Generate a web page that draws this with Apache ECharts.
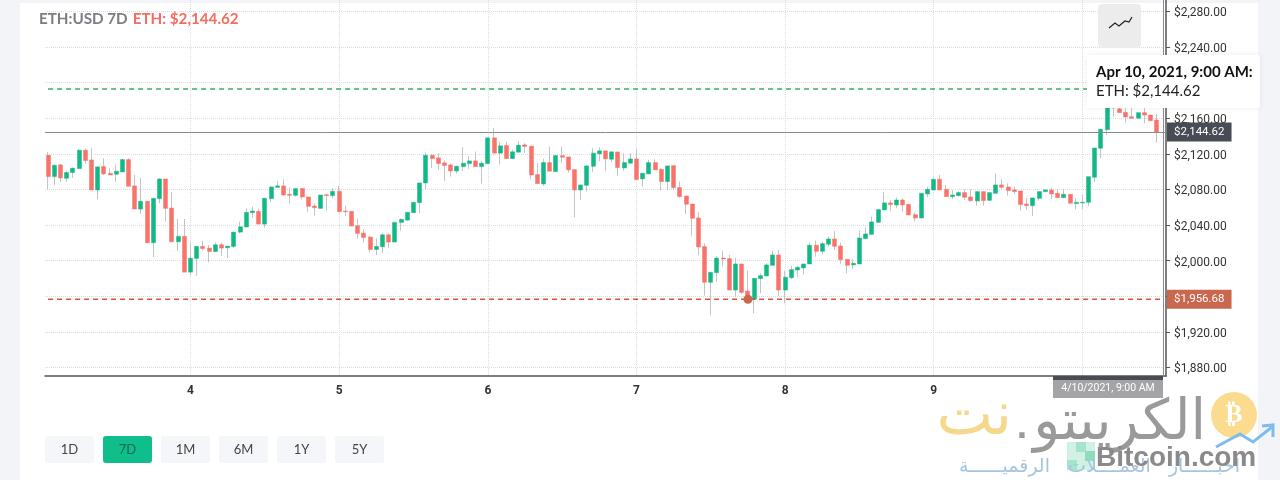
<!DOCTYPE html>
<html>
<head>
<meta charset="utf-8">
<title>ETH:USD 7D</title>
<script src="https://cdn.jsdelivr.net/npm/echarts@6/dist/echarts.min.js"></script>
<style>
html, body { margin: 0; padding: 0; background: #f3f4f8; }
#card { position: absolute; left: 20px; top: 3px; width: 1238px; height: 477px; background: #fff; }
#main { position: absolute; left: 0; top: 0; width: 1280px; height: 480px; }
</style>
</head>
<body>
<div id="card"></div>
<div id="main"></div>
<script>
// hourly candles, first one is Apr 3 01:00
var firstDay = 3;
var firstHour = 1;

var open = [
  2118.5,2094.5,2107.6,2092.6,2099.0,2103.5,2124.1,2113.2,2079.4,2105.7,
  2098.2,2097.1,2099.7,2113.6,2084.0,2058.0,2066.7,2020.1,2069.7,2091.8,
  2059.2,2021.2,2027.3,1987.1,2002.5,2016.0,2014.1,2010.3,2017.9,2014.5,
  2016.0,2032.1,2037.8,2053.9,2055.4,2041.1,2069.7,2082.4,2084.0,2074.6,
  2073.4,2081.3,2071.6,2061.4,2058.8,2074.2,2073.1,2077.9,2055.8,2055.4,
  2039.3,2031.0,2026.5,2012.6,2015.6,2029.1,2020.9,2043.0,2045.6,2053.9,
  2065.2,2087.3,2118.5,2115.5,2109.9,2107.6,2100.8,2105.7,2109.1,2112.1,
  2105.7,2109.1,2138.0,2120.8,2129.4,2114.7,2121.9,2130.1,2128.6,2096.7,
  2086.2,2110.2,2100.1,2118.1,2116.6,2102.4,2079.4,2084.7,2106.1,2120.0,
  2123.4,2114.0,2122.2,2104.2,2109.5,2114.3,2091.9,2097.5,2110.2,2102.7,
  2088.9,2106.8,2082.1,2072.7,2063.7,2048.0,2015.8,1975.7,1986.5,2003.0,
  2002.3,1967.0,1996.3,1965.9,1956.7,1979.8,1982.8,1994.8,2006.4,1967.0,
  1980.9,1989.5,1991.8,1996.3,2017.3,2010.5,2018.4,2024.4,2016.5,2001.5,
  1995.2,1996.3,2024.8,2029.6,2043.1,2057.0,2064.9,2062.6,2068.2,2063.3,
  2051.7,2048.0,2075.0,2079.4,2091.4,2080.2,2072.0,2073.1,2076.5,2071.6,
  2067.1,2077.6,2067.8,2075.7,2085.1,2082.8,2079.5,2078.3,2063.7,2061.8,
  2070.1,2077.6,2079.5,2075.7,2070.8,2074.6,2064.1,2064.8,2065.6,2093.7,
  2126.3,2147.2,2192.9,2170.5,2166.7,2161.8,2160.0,2166.3,2163.7,2158.1
];
var close = [
  2094.5,2107.2,2093.0,2099.0,2103.9,2124.1,2112.5,2079.4,2105.4,2097.5,
  2096.3,2100.5,2113.6,2083.6,2058.0,2066.7,2020.1,2070.1,2091.8,2058.8,
  2021.2,2027.3,1987.1,2002.8,2016.0,2013.7,2010.3,2017.9,2014.1,2016.4,
  2032.1,2038.1,2054.3,2055.8,2041.1,2070.1,2082.8,2084.0,2073.8,2073.4,
  2081.0,2071.6,2061.0,2059.5,2073.8,2073.1,2077.9,2055.0,2055.0,2038.9,
  2030.6,2026.1,2012.6,2016.0,2029.1,2020.9,2043.0,2046.4,2054.3,2065.6,
  2087.3,2118.5,2114.7,2109.1,2106.9,2100.8,2106.1,2109.5,2112.1,2105.7,
  2109.5,2138.0,2120.8,2129.0,2114.7,2122.3,2129.8,2128.3,2096.3,2086.6,
  2110.2,2100.5,2118.1,2116.2,2102.0,2079.4,2085.1,2106.5,2120.8,2123.4,
  2114.4,2122.3,2104.6,2110.2,2114.3,2091.1,2098.2,2110.2,2102.0,2088.9,
  2106.5,2082.1,2072.0,2063.4,2047.6,2015.4,1975.7,1986.9,2003.0,2001.9,
  1967.0,1996.3,1964.4,1956.68,1980.2,1983.2,1995.2,2006.4,1967.0,1981.3,
  1989.9,1992.5,1996.3,2017.3,2010.5,2019.1,2024.4,2016.1,2001.1,1994.8,
  1997.0,2025.5,2030.0,2043.5,2057.4,2064.9,2063.0,2068.2,2062.6,2051.4,
  2048.0,2075.7,2080.2,2091.4,2079.4,2072.0,2073.8,2076.5,2071.2,2067.5,
  2077.6,2067.5,2076.5,2085.1,2082.4,2078.7,2077.6,2063.0,2061.8,2070.5,
  2077.6,2079.5,2075.0,2070.8,2074.6,2064.5,2065.6,2065.6,2094.4,2126.6,
  2147.6,2192.9,2171.5,2166.3,2161.5,2160.0,2166.3,2163.7,2157.3,2144.62
];
var low = [
  2080.2,2085.1,2088.5,2088.5,2093.0,2103.5,2108.7,2079.4,2068.9,2096.3,
  2096.3,2088.5,2099.7,2083.6,2058.0,2052.4,2020.1,2004.0,2064.4,2043.8,
  2021.2,2011.1,1987.1,1983.7,1983.0,2011.1,1998.3,2009.6,2005.5,2002.8,
  2014.1,2030.6,2037.8,2048.3,2041.1,2037.0,2065.9,2082.4,2073.1,2064.4,
  2071.9,2068.9,2055.0,2050.5,2058.8,2056.2,2070.1,2055.0,2050.5,2038.9,
  2024.6,2020.5,2009.2,2006.2,2008.8,2014.1,2020.9,2033.6,2044.5,2053.9,
  2053.2,2080.6,2104.2,2102.0,2089.6,2094.5,2097.8,2100.5,2103.1,2105.7,
  2086.6,2109.1,2120.8,2108.0,2114.7,2114.7,2121.9,2120.8,2091.5,2086.6,
  2084.0,2100.5,2100.1,2110.2,2099.0,2048.7,2068.2,2077.9,2099.7,2111.7,
  2100.8,2110.6,2095.2,2101.2,2109.5,2091.1,2083.2,2097.1,2102.0,2078.7,
  2079.5,2079.5,2070.9,2052.5,2028.1,2006.4,1960.7,1938.9,1976.4,1993.3,
  1967.0,1959.5,1962.5,1956.68,1940.8,1963.3,1982.8,1994.0,1960.3,1952.1,
  1979.4,1981.3,1984.6,1996.3,2004.5,2007.1,2015.8,2012.0,1996.3,1985.8,
  1990.6,1996.3,2024.8,2029.6,2042.7,2057.0,2055.5,2058.9,2055.1,2051.4,
  2044.2,2047.2,2071.2,2079.4,2079.4,2072.0,2069.3,2072.0,2068.2,2066.3,
  2061.8,2061.8,2067.5,2075.7,2080.2,2073.1,2075.0,2056.2,2057.0,2050.2,
  2067.5,2077.2,2069.3,2070.1,2070.1,2064.1,2057.7,2057.7,2061.5,2088.4,
  2115.0,2141.6,2161.8,2166.3,2155.1,2160.0,2160.0,2154.3,2157.3,2132.6
];
var high = [
  2121.9,2108.0,2108.4,2101.2,2104.6,2126.0,2125.6,2126.4,2105.4,2115.1,
  2103.9,2107.6,2114.4,2115.1,2096.3,2093.3,2066.7,2070.1,2092.6,2091.8,
  2077.2,2046.8,2046.8,2021.2,2016.0,2022.4,2017.5,2020.5,2020.1,2016.4,
  2032.1,2043.8,2058.8,2060.7,2058.4,2070.1,2083.6,2089.6,2091.5,2082.4,
  2081.3,2081.3,2071.6,2064.4,2073.8,2074.2,2081.3,2084.3,2061.8,2055.4,
  2047.5,2035.5,2028.0,2025.0,2030.6,2030.6,2043.0,2047.5,2054.3,2065.6,
  2087.3,2121.5,2119.6,2120.8,2112.5,2109.5,2106.5,2127.5,2117.4,2122.6,
  2112.1,2138.0,2148.9,2133.5,2133.5,2124.5,2134.3,2132.0,2128.6,2109.5,
  2114.4,2127.9,2118.1,2128.3,2116.6,2102.4,2085.1,2106.5,2126.4,2127.5,
  2123.4,2122.3,2122.2,2120.7,2120.7,2125.2,2098.2,2113.2,2114.0,2104.2,
  2106.5,2106.8,2088.9,2072.7,2063.7,2054.4,2019.5,1986.9,2004.9,2011.3,
  2006.4,2003.4,1996.3,1988.8,1980.2,1985.8,1997.0,2011.3,2012.0,1988.8,
  1994.0,1994.0,1996.3,2020.3,2022.5,2021.0,2027.0,2033.4,2020.3,2001.5,
  2001.5,2033.8,2036.8,2049.5,2057.4,2076.9,2068.2,2071.2,2070.1,2063.3,
  2054.0,2075.7,2083.2,2093.7,2096.3,2085.1,2079.4,2077.6,2080.2,2080.2,
  2077.6,2077.6,2076.5,2098.2,2091.4,2086.9,2083.2,2078.3,2070.1,2070.5,
  2077.6,2080.2,2082.1,2080.2,2080.6,2074.6,2070.1,2073.8,2094.4,2126.6,
  2147.6,2195.8,2197.0,2171.6,2171.6,2171.6,2166.3,2171.6,2163.7,2164.8
];

var priceTicks = [1880,1920,1960,2000,2040,2080,2120,2160,2200,2240,2280];
var lastPrice = 2144.62;
var lowPrice = 1956.68;
var highPrice = 2192.9;
var lowIndex = 113;
var rangeButtons = ['1D','7D','1M','6M','1Y','5Y'];
var activeButton = '7D';

var GREEN = '#12b886';
var RED = '#f8736a';

// one empty slot after the last candle, the crosshair sits in it
var days = [];
for (var i = 0; i <= open.length; i++) {
  var h = firstHour + i;
  days.push(h % 24 == 0 ? String(firstDay + h / 24) : '');
}

var wicks = [];
var bodies = [];
for (var i = 0; i < open.length; i++) {
  wicks.push([open[i], close[i], low[i], high[i]]);
  bodies.push([open[i], close[i], Math.min(open[i], close[i]), Math.max(open[i], close[i])]);
}

function money(v) {
  return '$' + v.toLocaleString('en-US', {minimumFractionDigits: 2, maximumFractionDigits: 2});
}
function isDay(index, value) {
  return value !== '';
}
// dashed level across the whole chart, the box on the axis hangs on a see-through mark line
function level(name, value, color, boxColor) {
  var s = {
    name: name,
    type: 'line',
    data: [[0, value], [days.length - 1, value]],
    symbol: 'none',
    lineStyle: {color: color, type: [5, 4], width: 1.4}
  };
  if (boxColor) {
    s.markLine = {
      silent: true, symbol: 'none', animation: false,
      lineStyle: {color: 'transparent'},
      label: {show: true, position: 'end', distance: 1, formatter: money(value), backgroundColor: boxColor,
        color: '#fff', padding: [4, 7, 3, 7], fontFamily: 'Roboto', fontSize: 11.5},
      data: [{yAxis: value}]
    };
  }
  return s;
}

var UI_FONT = 'Lato';
var shapes = [];

// chart type icon
shapes.push({type: 'rect', z: 100, shape: {x: 1098, y: 4, width: 43, height: 44, r: 4}, style: {fill: '#ececec'}});
shapes.push({type: 'polyline', z: 101, shape: {points: [[1109,28],[1115,23],[1119,26],[1125,21],[1129,22],[1132,17]]}, style: {stroke: '#222', lineWidth: 1.2, fill: null}});

// hover tooltip
shapes.push({type: 'rect', z: 100, shape: {x: 1087, y: 55, width: 173, height: 53, r: 2}, style: {fill: '#fff', shadowBlur: 6, shadowColor: 'rgba(0,0,0,0.08)'}});
shapes.push({type: 'text', z: 101, x: 1096, y: 72, style: {text: 'Apr 10, 2021, 9:00 AM:', fill: '#111', font: 'bold 15px ' + UI_FONT, textVerticalAlign: 'middle'}});
shapes.push({type: 'text', z: 101, x: 1096, y: 91, style: {text: 'ETH: ' + money(lastPrice), fill: '#222', font: '15px ' + UI_FONT, textVerticalAlign: 'middle'}});

// crosshair label on the time axis
shapes.push({type: 'rect', z: 100, shape: {x: 1053, y: 376, width: 110, height: 4}, style: {fill: '#484c55'}});
shapes.push({type: 'rect', z: 100, shape: {x: 1053, y: 380, width: 110, height: 18}, style: {fill: '#a3a3a8'}});
shapes.push({type: 'text', z: 101, x: 1108, y: 388, style: {text: '4/10/2021, 9:00 AM', fill: '#fff', font: '10.5px Roboto', textAlign: 'center', textVerticalAlign: 'middle'}});

// range buttons
for (var i = 0; i < rangeButtons.length; i++) {
  var bx = 45 + i * 58;
  var on = rangeButtons[i] == activeButton;
  shapes.push({type: 'rect', z: 100, shape: {x: bx, y: 436, width: 49, height: 27, r: 3}, style: {fill: on ? '#0fbe8b' : '#f5f6fa'}});
  shapes.push({type: 'text', z: 101, x: bx + 24.5, y: 450, style: {text: rangeButtons[i], fill: on ? '#14695a' : '#444', font: '13px ' + UI_FONT, textAlign: 'center', textVerticalAlign: 'middle'}});
}

// watermark
shapes.push({type: 'text', z: 110, x: 1206, y: 424, style: {text: 'الكريبتو', fill: '#9a9a9a', font: '56px "DejaVu Sans"', textAlign: 'right', textVerticalAlign: 'middle'}});
shapes.push({type: 'text', z: 110, x: 1022, y: 430, style: {text: '.', fill: '#9a9a9a', font: 'bold 30px "DejaVu Sans"', textAlign: 'center', textVerticalAlign: 'middle'}});
shapes.push({type: 'text', z: 110, x: 1012, y: 418, style: {text: 'نت', fill: '#f6d88c', font: '60px "DejaVu Sans"', textAlign: 'right', textVerticalAlign: 'middle'}});
shapes.push({type: 'circle', z: 110, shape: {cx: 1234, cy: 415, r: 23}, style: {fill: '#fbdc8e'}});
shapes.push({type: 'text', z: 111, x: 1234, y: 415, style: {text: '₿', fill: '#fff', font: 'bold 26px "DejaVu Sans"', textAlign: 'center', textVerticalAlign: 'middle'}});
shapes.push({type: 'polyline', z: 110, shape: {points: [[1216,447],[1240,434],[1253,442],[1272,427]]}, style: {stroke: '#7fbcec', lineWidth: 3, fill: null}});
shapes.push({type: 'polyline', z: 110, shape: {points: [[1262,426],[1273,425],[1273,437]]}, style: {stroke: '#7fbcec', lineWidth: 3, fill: null}});
shapes.push({type: 'rect', z: 110, shape: {x: 1067, y: 442, width: 28, height: 28}, style: {fill: '#d2f1e5'}});
shapes.push({type: 'rect', z: 110, shape: {x: 1076, y: 442, width: 10, height: 10}, style: {fill: '#a6e3cc'}});
shapes.push({type: 'rect', z: 110, shape: {x: 1085, y: 451, width: 10, height: 10}, style: {fill: '#8fdcbe'}});
shapes.push({type: 'rect', z: 110, shape: {x: 1067, y: 460, width: 10, height: 10}, style: {fill: '#a6e3cc'}});
shapes.push({type: 'text', z: 110, x: 1240, y: 467, style: {text: 'اخبــــــار   العمــــلات   الرقميــــــة', fill: '#a5c4e0', font: '19px "DejaVu Sans"', textAlign: 'right', textVerticalAlign: 'middle'}});
shapes.push({type: 'text', z: 111, x: 1096, y: 458, style: {text: 'Bitcoin.com', fill: '#8a8a8a', font: 'bold 28px "Liberation Sans"', textVerticalAlign: 'middle'}});

var myChart = echarts.init(document.getElementById('main'));
var option = {
  animation: false,
  title: {
    left: 39, top: 10, padding: 0,
    text: '{a|ETH:USD 7D} {b|ETH: ' + money(lastPrice) + '}',
    textStyle: {
      rich: {
        a: {fontFamily: UI_FONT, fontSize: 15.2, fontWeight: 'bold', color: '#7c7d82'},
        b: {fontFamily: UI_FONT, fontSize: 15.2, fontWeight: 'bold', color: '#f56c62'}
      }
    }
  },
  grid: {left: 45, right: 114, top: 0, bottom: 104},
  xAxis: {
    type: 'category',
    data: days,
    boundaryGap: true,
    axisLine: {lineStyle: {color: '#555', width: 1.5}},
    axisTick: {alignWithLabel: true, interval: isDay, length: 4, lineStyle: {color: '#555'}},
    axisLabel: {interval: isDay, margin: 9, fontFamily: 'Roboto', fontSize: 12, fontWeight: 'bold', color: '#333'},
    splitLine: {show: true, alignWithLabel: true, interval: isDay, lineStyle: {color: '#dcdcdc', type: 'dotted'}}
  },
  yAxis: {
    type: 'value',
    position: 'right',
    min: 1870.4,
    max: 2292.9,
    axisLine: {show: true, lineStyle: {color: '#555', width: 1.5}},
    axisTick: {show: true, length: 4, customValues: priceTicks, lineStyle: {color: '#555'}},
    axisLabel: {
      customValues: priceTicks, margin: 8,
      formatter: function (v) { return '{p|' + money(v) + '}'; },
      rich: {p: {padding: [4, 0, 0, 0], fontFamily: 'Roboto', fontSize: 12, color: '#333'}}
    },
    splitLine: {show: true, lineStyle: {color: '#dcdcdc', type: 'dotted'}}
  },
  series: [
    {
      name: 'wicks',
      type: 'candlestick',
      data: wicks,
      barWidth: 1,
      itemStyle: {color: '#c4c4c4', color0: '#c4c4c4', borderColor: '#c4c4c4', borderColor0: '#c4c4c4', borderWidth: 1}
    },
    {
      name: 'bodies',
      type: 'candlestick',
      data: bodies,
      barWidth: 4.5,
      itemStyle: {color: GREEN, color0: RED, borderColor: GREEN, borderColor0: RED, borderWidth: 0.5},
      markPoint: {
        silent: true,
        symbol: 'circle',
        symbolSize: 9,
        itemStyle: {color: '#c9674f'},
        label: {show: false},
        data: [{coord: [lowIndex, lowPrice]}]
      }
    },
    {
      name: 'crosshair',
      type: 'line',
      data: [],
      markLine: {
        silent: true, symbol: 'none', animation: false,
        lineStyle: {color: '#858b93', type: 'solid', width: 1},
        label: {show: true, position: 'end', distance: 1, formatter: money(lastPrice), backgroundColor: '#484c55',
          color: '#fff', padding: [4, 7, 3, 7], fontFamily: 'Roboto', fontSize: 11.5},
        data: [{yAxis: lastPrice}, {xAxis: days.length - 1, label: {show: false}}]
      }
    },
    level('lowest', lowPrice, '#d9503f', '#c9674f'),
    level('highest', highPrice, '#3fae52')
  ],
  graphic: shapes
};
if (option && typeof option === "object") {
  myChart.setOption(option, true);
}
</script>
</body>
</html>
